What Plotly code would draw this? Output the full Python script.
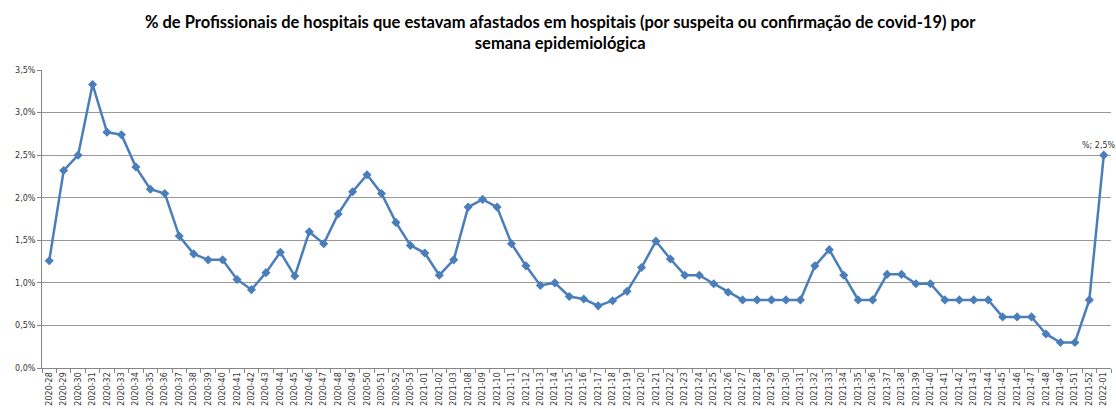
import plotly.graph_objects as go

weeks = (
    [f"2020-{w}" for w in range(28, 54)]
    + ["2021-01", "2021-02", "2021-03"]
    + [f"2021-{w:02d}" for w in range(8, 50)]
    + ["2021-51", "2021-52", "2022-01"]
)

pct_afastados = [
    1.26, 2.32, 2.50, 3.33, 2.77, 2.74, 2.36, 2.10, 2.05, 1.55,
    1.34, 1.27, 1.27, 1.04, 0.92, 1.12, 1.36, 1.08, 1.60, 1.46,
    1.81, 2.07, 2.27, 2.05, 1.71, 1.44, 1.35, 1.09, 1.27, 1.89,
    1.98, 1.89, 1.46, 1.20, 0.97, 1.00, 0.84, 0.81, 0.73, 0.79,
    0.90, 1.18, 1.49, 1.28, 1.09, 1.09, 0.99, 0.89, 0.80, 0.80,
    0.80, 0.80, 0.80, 1.20, 1.39, 1.09, 0.80, 0.80, 1.10, 1.10,
    0.99, 0.99, 0.80, 0.80, 0.80, 0.80, 0.60, 0.60, 0.60, 0.40,
    0.30, 0.30, 0.80, 2.50,
]

y_ticks = [0, 0.5, 1.0, 1.5, 2.0, 2.5, 3.0, 3.5]
y_tick_labels = ["0,0%", "0,5%", "1,0%", "1,5%", "2,0%", "2,5%", "3,0%", "3,5%"]

title_text = ("% de Profissionais de hospitais que estavam afastados em hospitais "
              "(por suspeita ou confirmação de covid-19) por<br>semana epidemiológica")

blue = "#4A7EBB"

fig = go.Figure()
fig.add_trace(go.Scatter(
    x=weeks, y=pct_afastados, mode="lines+markers",
    line=dict(color=blue, width=2.5),
    marker=dict(symbol="diamond", size=7, color=blue),
    showlegend=False,
))

fig.add_annotation(
    x=weeks[-1], y=pct_afastados[-1], text="%; 2,5%", showarrow=False,
    yshift=10, xshift=-5, font=dict(family="DejaVu Sans", size=8, color="#333333"),
)

fig.update_layout(
    width=1116, height=409,
    margin=dict(l=42, r=5, t=70, b=41, autoexpand=False),
    paper_bgcolor="white", plot_bgcolor="white",
    title=dict(text=title_text, x=0.502, xanchor="center", y=0.932, yanchor="top",
               font=dict(family="Lato", size=16.5, color="black", weight="bold")),
    xaxis=dict(
        type="category", range=[-0.5, len(weeks) - 0.5],
        tickangle=-90, tickfont=dict(family="DejaVu Sans", size=8, color="#333333"),
        showgrid=False, showline=True, linecolor="#868686", linewidth=1,
        ticks="outside", ticklen=4, tickcolor="#868686", tickson="boundaries",
        automargin=False,
    ),
    yaxis=dict(
        range=[0, 3.5], tickvals=y_ticks, ticktext=y_tick_labels,
        tickfont=dict(family="DejaVu Sans", size=8, color="#333333"),
        showgrid=True, gridcolor="#989898", gridwidth=1,
        showline=True, linecolor="#868686", linewidth=1,
        ticks="outside", ticklen=4, tickcolor="#868686",
        zeroline=False, automargin=False,
    ),
)

fig.write_html("out.html", config={"displayModeBar": False},
               post_script="document.body.style.margin='0';")
